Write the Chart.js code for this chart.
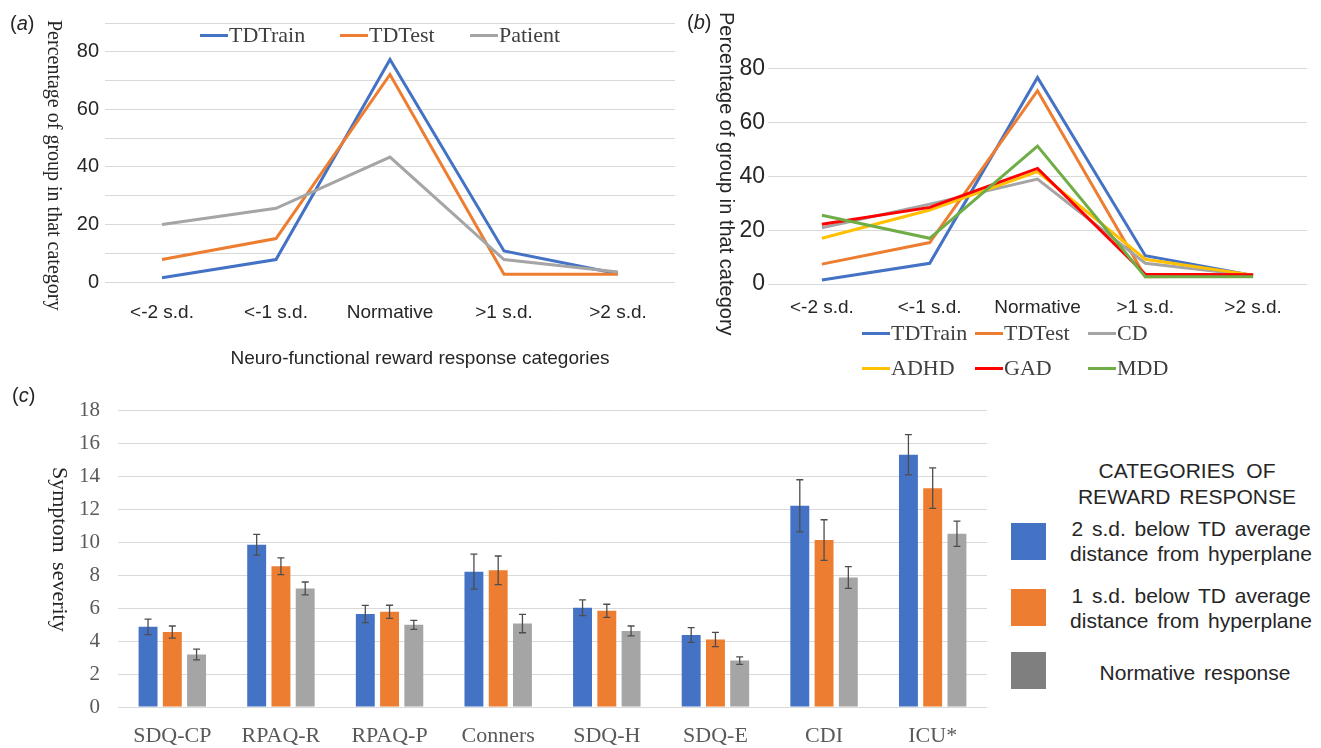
<!DOCTYPE html>
<html>
<head>
<meta charset="utf-8">
<title>Reward response categories and symptom severity</title>
<script src="https://cdn.jsdelivr.net/npm/chart.js@4.4.1/dist/chart.umd.min.js"></script>
<style>
  body { margin: 0; background: #fff; }
  #page { position: relative; width: 1321px; height: 748px; overflow: hidden; font-family: "Liberation Sans", Arial, sans-serif; color: #262626; }
  canvas { position: absolute; }
  .txt { position: absolute; white-space: nowrap; line-height: 1; }
  .serif { font-family: "Liberation Serif", "Times New Roman", serif; }
  .vert { writing-mode: vertical-rl; }
  .key { position: absolute; width: 28px; height: 3px; }
  .box { position: absolute; width: 35px; height: 37px; }
</style>
</head>
<body>
<div id="page">
  <canvas id="chartA" width="680" height="370" style="left:0;top:0"></canvas>
  <canvas id="chartB" width="641" height="330" style="left:680px;top:0"></canvas>
  <canvas id="chartC" width="1000" height="368" style="left:0;top:380px"></canvas>
</div>
<script>
// categories and values
const sdCategories = ['<-2 s.d.', '<-1 s.d.', 'Normative', '>1 s.d.', '>2 s.d.'];

// panel (a)
const tdTrainA = [1.5, 7.8, 77.3, 10.8, 2.9];
const tdTestA = [7.8, 15.1, 72.1, 2.7, 2.7];
const patientA = [20.0, 25.6, 43.4, 7.8, 3.5];

// panel (b)
const tdTrainB = [1.5, 7.7, 76.8, 10.5, 3.2];
const tdTestB = [7.4, 15.4, 71.9, 2.7, 3.0];
const cdB = [20.9, 29.7, 39.0, 7.7, 3.2];
const adhdB = [17.0, 27.5, 41.8, 9.2, 3.3];
const gadB = [22.2, 28.5, 43.0, 3.6, 3.4];
const mddB = [25.6, 17.0, 51.3, 2.7, 2.7];

// panel (c)
const scaleLabels = ['SDQ-CP', 'RPAQ-R', 'RPAQ-P', 'Conners', 'SDQ-H', 'SDQ-E', 'CDI', 'ICU*'];
const twoSdBelow = [4.87, 9.85, 5.65, 8.22, 6.03, 4.37, 12.22, 15.32];
const twoSdErr = [0.47, 0.63, 0.52, 1.06, 0.48, 0.45, 1.58, 1.22];
const oneSdBelow = [4.55, 8.55, 5.78, 8.30, 5.84, 4.10, 10.14, 13.29];
const oneSdErr = [0.37, 0.51, 0.40, 0.87, 0.40, 0.43, 1.23, 1.23];
const normative = [3.19, 7.20, 4.99, 5.07, 4.62, 2.82, 7.87, 10.52];
const normativeErr = [0.33, 0.39, 0.27, 0.56, 0.30, 0.23, 0.66, 0.77];

const SANS = '"Liberation Sans", Arial, sans-serif';
const SERIF = '"Liberation Serif", "Times New Roman", serif';
const BLUE = '#4472C4', ORANGE = '#ED7D31', GREY = '#A5A5A5';
const YELLOW = '#FFC000', RED = '#FF0000', GREEN = '#70AD47';

Chart.defaults.font.family = SANS;
Chart.defaults.color = '#262626';

const page = document.getElementById('page');

// absolutely placed text; anchor 'l' = left edge, 'c' = centre, 'none' = top-left corner
function addText(html, x, y, size, opts = {}) {
  const el = document.createElement('div');
  el.className = 'txt' + (opts.serif ? ' serif' : '') + (opts.vert ? ' vert' : '');
  el.innerHTML = html;
  el.style.fontSize = size + 'px';
  el.style.left = x + 'px';
  el.style.top = y + 'px';
  if (opts.color) el.style.color = opts.color;
  if (opts.style) Object.assign(el.style, opts.style);
  el.style.transform = opts.anchor === 'c' ? 'translate(-50%,-50%)' :
                       opts.anchor === 'none' ? 'none' : 'translate(0,-50%)';
  page.appendChild(el);
  return el;
}

function addKey(x, y, color, label) {
  const k = document.createElement('div');
  k.className = 'key';
  k.style.left = x + 'px';
  k.style.top = (y - 1.5) + 'px';
  k.style.background = color;
  page.appendChild(k);
  addText(label, x + 29, y, 22, { serif: true, color: '#404040' });
}

function lineSet(label, data, color, order) {
  return { label, data, borderColor: color, backgroundColor: color, borderWidth: 3, tension: 0, pointRadius: 0, order };
}

function lineOptions(o) {
  return {
    responsive: false, animation: false, devicePixelRatio: 1,
    layout: { padding: o.padding },
    plugins: { legend: { display: false }, tooltip: { enabled: false } },
    scales: {
      x: {
        offset: true,
        grid: { display: false, drawTicks: false },
        border: { display: false },
        ticks: { font: { size: o.xFont }, padding: o.xPad, color: '#262626', maxRotation: 0 },
        afterFit: s => { s.height = o.xHeight; }
      },
      y: {
        min: 0, max: 90,
        ticks: { stepSize: 10, font: { size: o.yFont }, padding: o.yPad, color: '#262626',
                 callback: v => (v % 20 === 0 && v < 90) ? v : '' },
        grid: { color: '#d9d9d9', lineWidth: 1, drawTicks: false },
        border: { display: false },
        afterFit: s => { s.width = o.yWidth; }
      }
    }
  };
}

// (a)
new Chart(document.getElementById('chartA'), {
  type: 'line',
  data: {
    labels: sdCategories,
    datasets: [
      lineSet('TDTrain', tdTrainA, BLUE, 2),
      lineSet('TDTest', tdTestA, ORANGE, 1),
      lineSet('Patient', patientA, GREY, 0)
    ]
  },
  options: lineOptions({ padding: { top: 23, right: 5, left: 0, bottom: 0 }, xFont: 19, xPad: 19, xHeight: 88, yFont: 20, yPad: 6, yWidth: 105 })
});

// (b)
new Chart(document.getElementById('chartB'), {
  type: 'line',
  data: {
    labels: sdCategories,
    datasets: [
      lineSet('TDTrain', tdTrainB, BLUE, 5),
      lineSet('TDTest', tdTestB, ORANGE, 4),
      lineSet('CD', cdB, GREY, 3),
      lineSet('ADHD', adhdB, YELLOW, 2),
      lineSet('GAD', gadB, RED, 1),
      lineSet('MDD', mddB, GREEN, 0)
    ]
  },
  options: lineOptions({ padding: { top: 42, right: 14, left: 0, bottom: 0 }, xFont: 19, xPad: 12, xHeight: 46, yFont: 23, yPad: 3, yWidth: 88 })
});

// error bars for panel (c), drawn at the bar positions through the y scale
const errorBars = {
  id: 'errorBars',
  afterDatasetsDraw(chart) {
    const ctx = chart.ctx, y = chart.scales.y;
    ctx.save();
    ctx.strokeStyle = '#4d4d4d';
    ctx.lineWidth = 1.3;
    chart.data.datasets.forEach((ds, i) => {
      chart.getDatasetMeta(i).data.forEach((bar, j) => {
        const hi = y.getPixelForValue(ds.data[j] + ds.errors[j]);
        const lo = y.getPixelForValue(ds.data[j] - ds.errors[j]);
        ctx.beginPath();
        ctx.moveTo(bar.x, hi); ctx.lineTo(bar.x, lo);
        ctx.moveTo(bar.x - 3.5, hi); ctx.lineTo(bar.x + 3.5, hi);
        ctx.moveTo(bar.x - 3.5, lo); ctx.lineTo(bar.x + 3.5, lo);
        ctx.stroke();
      });
    });
    ctx.restore();
  }
};

// (c)
new Chart(document.getElementById('chartC'), {
  type: 'bar',
  data: {
    labels: scaleLabels,
    datasets: [
      { label: '2 s.d. below TD average distance from hyperplane', data: twoSdBelow, errors: twoSdErr, backgroundColor: BLUE },
      { label: '1 s.d. below TD average distance from hyperplane', data: oneSdBelow, errors: oneSdErr, backgroundColor: ORANGE },
      { label: 'Normative response', data: normative, errors: normativeErr, backgroundColor: GREY }
    ]
  },
  options: {
    responsive: false, animation: false, devicePixelRatio: 1,
    layout: { padding: { top: 17, right: 13, left: 0, bottom: 0 } },
    datasets: { bar: { categoryPercentage: 0.67, barPercentage: 0.78 } },
    plugins: { legend: { display: false }, tooltip: { enabled: false } },
    scales: {
      x: {
        grid: { display: false, drawTicks: false },
        border: { display: false },
        ticks: { font: { family: SERIF, size: 22 }, color: '#595959', padding: 16 },
        afterFit: s => { s.height = 41; }
      },
      y: {
        min: 0, max: 18,
        ticks: { stepSize: 2, font: { family: SERIF, size: 21 }, color: '#595959', padding: 18 },
        grid: { color: '#d9d9d9', drawTicks: false },
        border: { display: false },
        afterFit: s => { s.width = 118; }
      }
    }
  },
  plugins: [errorBars]
});

// panel letters
addText('(<i>a</i>)', 10, 23, 20);
addText('(<i>b</i>)', 687, 22, 20);
addText('(<i>c</i>)', 12, 395, 20);

// axis titles
addText('Percentage of group in that category', 45, 20, 20, { serif: true, vert: true, anchor: 'none' });
addText('Neuro-functional reward response categories', 420, 357, 19, { anchor: 'c' });
addText('Percentage of group in that category', 717, 12, 20, { vert: true, anchor: 'none' });
addText('Symptom severity', 49, 467, 22, { serif: true, vert: true, anchor: 'none', style: { wordSpacing: '4px' } });

// legends (a) and (b)
addKey(200, 35, BLUE, 'TDTrain');
addKey(340, 35, ORANGE, 'TDTest');
addKey(470, 35, GREY, 'Patient');

addKey(862, 333, BLUE, 'TDTrain');
addKey(975, 333, ORANGE, 'TDTest');
addKey(1088, 333, GREY, 'CD');
addKey(862, 368, YELLOW, 'ADHD');
addKey(975, 368, RED, 'GAD');
addKey(1088, 368, GREEN, 'MDD');

// legend (c)
addText('CATEGORIES&nbsp; OF', 1187, 470, 21, { anchor: 'c' });
addText('REWARD RESPONSE', 1187, 496, 21, { anchor: 'c', style: { wordSpacing: '3px' } });
const boxes = [[523, BLUE], [589, ORANGE], [652, '#7F7F7F']];
boxes.forEach(([top, color]) => {
  const b = document.createElement('div');
  b.className = 'box';
  b.style.left = '1011px';
  b.style.top = top + 'px';
  b.style.background = color;
  page.appendChild(b);
});
const legText = { textAlign: 'center', lineHeight: '25px', wordSpacing: '3px' };
addText('2 s.d. below TD average<br>distance from hyperplane', 1191, 541, 21, { anchor: 'c', style: legText });
addText('1 s.d. below TD average<br>distance from hyperplane', 1191, 608, 21, { anchor: 'c', style: legText });
addText('Normative response', 1195, 672, 21, { anchor: 'c', style: { wordSpacing: '3px' } });
</script>
</body>
</html>
